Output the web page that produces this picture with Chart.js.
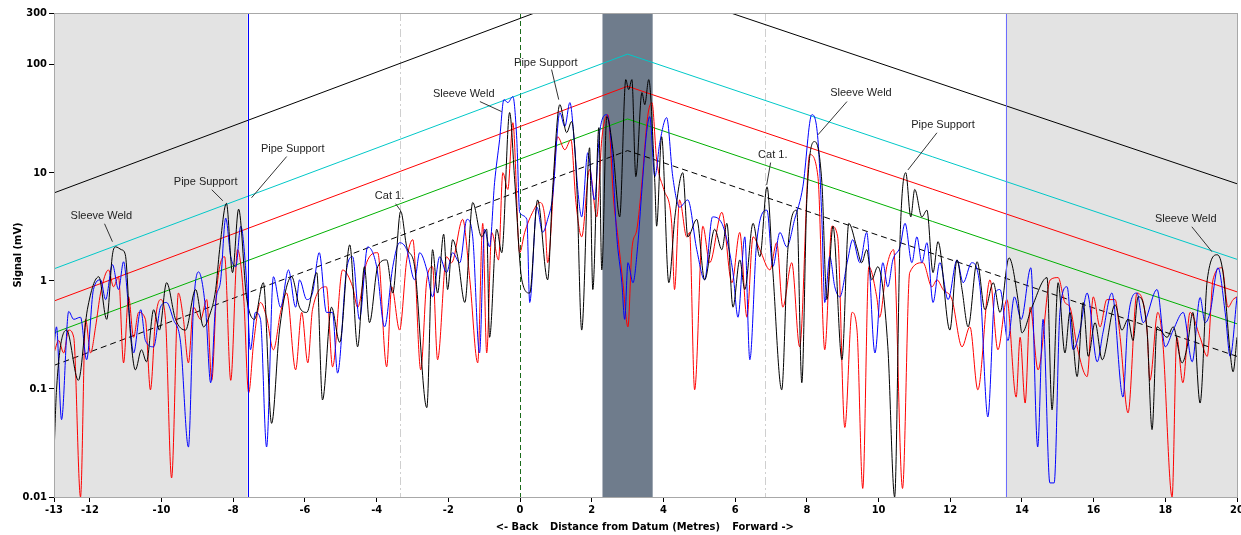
<!DOCTYPE html>
<html>
<head>
<meta charset="utf-8">
<title>Signal vs distance</title>
<script src="https://cdn.jsdelivr.net/npm/chart.js@4.4.1/dist/chart.umd.min.js"></script>
<style>
    html, body { margin: 0; padding: 0; background: #ffffff; }
    #wrap { width: 1241px; height: 535px; }
</style>
</head>
<body>
<div id="wrap"><canvas id="myChart" width="1241" height="535"></canvas></div>
<script>
// Tick values
const xTicks = [-13, -12, -10, -8, -6, -4, -2, 0, 2, 4, 6, 8, 10, 12, 14, 16, 18, 20];
const yTicks = [0.01, 0.1, 1, 10, 100, 300];

// DAC / threshold lines: x positions (m) and values (mV)
const dacX = [-13, 3, 20];
const dacBlack = [6.5, 630, 7.9];
const dacCyan = [1.29, 125, 1.58];
const dacRed = [0.65, 63, 0.79];
const dacGreen = [0.33, 31.4, 0.40];
const dacDashed = [0.165, 16, 0.2];

// Regions (m)
const greyLeft = [-13, -7.6];
const greyRight = [13.55, 20];
const darkBand = [2.3, 3.7];
const datumX = 0;
const refLines = [-3.36, 6.83];

// Signal traces [distance (m), signal (mV)]
const blackTrace = [
    [-13, 0.025], [-12.93, 0.098], [-12.65, 0.35], [-12.32, 0.12], [-12.07, 0.54], [-11.75, 1.09],
    [-11.53, 0.44], [-11.37, 1.74], [-11.28, 2.06], [-11.12, 1.94], [-11.01, 1.74], [-10.87, 0.33],
    [-10.73, 0.15], [-10.56, 0.23], [-10.42, 0.178], [-10.22, 0.54], [-10.06, 0.35], [-9.86, 0.96],
    [-9.61, 0.44], [-9.33, 0.35], [-9.05, 0.83], [-8.83, 0.375], [-8.66, 0.48], [-8.49, 0.83],
    [-8.38, 1.94], [-8.19, 5.2], [-8.02, 1.19], [-7.85, 4.6], [-7.63, 0.71], [-7.41, 0.44],
    [-7.16, 0.96], [-6.93, 0.048], [-6.71, 0.35], [-6.37, 1.09], [-6.15, 0.57], [-5.95, 0.51],
    [-5.67, 1.19], [-5.51, 0.079], [-5.26, 0.57], [-5.03, 0.27], [-4.75, 2.15], [-4.53, 0.245],
    [-4.34, 1.35], [-4.2, 0.41], [-3.97, 1.35], [-3.72, 1.56], [-3.55, 0.77], [-3.33, 4.4],
    [-3.16, 2.06], [-2.94, 1.35], [-2.6, 0.067], [-2.44, 1.94], [-2.3, 0.77], [-2.13, 2.7],
    [-2.02, 0.83], [-1.88, 2.4], [-1.74, 1.67], [-1.54, 0.63], [-1.32, 5.3], [-1.07, 2.55],
    [-0.93, 3.0], [-0.85, 0.3], [-0.65, 3.0], [-0.51, 1.82], [-0.29, 36], [-0.15, 8.6],
    [0.05, 1.02], [0.27, 0.77], [0.49, 5.6], [0.77, 1.02], [0.91, 7.0], [1.11, 42.6],
    [1.3, 23.5], [1.44, 29.7], [1.58, 8.1], [1.72, 0.35], [1.94, 17], [2.03, 0.83],
    [2.2, 26.1], [2.28, 1.26], [2.42, 33], [2.59, 16.3], [2.78, 3.9], [2.95, 72.6],
    [3.03, 58.7], [3.12, 72.6], [3.23, 9.2], [3.4, 55], [3.48, 42.6], [3.59, 72.6],
    [3.76, 8.1], [3.81, 3.2], [3.95, 21.5], [4.15, 0.96], [4.32, 3.9], [4.54, 10],
    [4.68, 2.55], [4.93, 3.7], [5.15, 1.02], [5.43, 3.0], [5.63, 1.94], [5.77, 3.4],
    [5.94, 0.57], [6.13, 1.56], [6.27, 0.83], [6.5, 3.4], [6.69, 1.67], [6.89, 7.4],
    [7.05, 1.26], [7.3, 0.098], [7.47, 1.94], [7.72, 4.5], [7.86, 0.114], [8.0, 5.6],
    [8.22, 19.4], [8.42, 8.1], [8.56, 0.67], [8.73, 3.2], [8.98, 0.186], [9.17, 3.4],
    [9.39, 2.06], [9.53, 1.47], [9.67, 1.94], [9.81, 1.02], [9.98, 1.35], [10.26, 0.245],
    [10.45, 0.01], [10.6, 2.4], [10.76, 10], [10.9, 3.9], [11.01, 7.0], [11.21, 3.9],
    [11.35, 4.5], [11.52, 1.19], [11.66, 2.3], [11.99, 0.35], [12.19, 1.56], [12.33, 0.83],
    [12.5, 0.375], [12.75, 1.5], [12.97, 0.54], [13.2, 0.96], [13.39, 0.51], [13.64, 1.63],
    [13.89, 0.67], [14.0, 0.33], [14.28, 0.57], [14.7, 1.07], [14.84, 0.064], [15.01, 0.96],
    [15.2, 0.215], [15.34, 0.51], [15.54, 0.13], [15.71, 0.63], [15.85, 0.2], [16.04, 0.41],
    [16.24, 0.186], [16.6, 0.6], [16.79, 0.35], [16.96, 0.44], [17.1, 0.28], [17.24, 0.71],
    [17.49, 0.35], [17.63, 0.042], [17.77, 0.375], [18.05, 0.3], [18.22, 0.375], [18.47, 0.174],
    [18.61, 0.245], [18.77, 0.51], [18.97, 0.074], [19.17, 1.02], [19.45, 1.74], [19.61, 1.19],
    [19.81, 0.215], [19.89, 0.144], [20, 0.3]
];

const redTrace = [
    [-13, 0.215], [-12.87, 0.28], [-12.73, 0.215], [-12.59, 0.35], [-12.45, 0.3], [-12.26, 0.01],
    [-12.12, 0.44], [-11.98, 0.215], [-11.84, 0.375], [-11.7, 0.77], [-11.48, 1.26], [-11.34, 0.88],
    [-11.2, 1.09], [-11.06, 0.174], [-10.92, 0.71], [-10.78, 0.3], [-10.64, 0.51], [-10.45, 0.44],
    [-10.31, 0.098], [-10.17, 0.44], [-10.03, 0.67], [-9.89, 0.44], [-9.72, 0.015], [-9.53, 0.77],
    [-9.39, 0.44], [-9.25, 0.174], [-9.11, 0.57], [-8.91, 0.44], [-8.74, 0.67], [-8.6, 0.12],
    [-8.46, 0.83], [-8.24, 1.67], [-8.07, 0.12], [-7.88, 1.94], [-7.71, 0.71], [-7.57, 0.092],
    [-7.43, 0.27], [-7.24, 0.63], [-7.07, 0.46], [-6.88, 0.23], [-6.68, 0.51], [-6.51, 0.77],
    [-6.26, 0.15], [-6.09, 0.51], [-5.92, 0.174], [-5.79, 0.54], [-5.4, 0.88], [-5.23, 0.16],
    [-4.95, 1.26], [-4.67, 0.88], [-4.53, 0.57], [-4.28, 1.47], [-3.97, 1.82], [-3.72, 0.16],
    [-3.58, 0.88], [-3.36, 0.35], [-3.16, 1.56], [-2.99, 2.4], [-2.77, 0.15], [-2.6, 1.02],
    [-2.44, 1.35], [-2.3, 0.186], [-2.05, 1.67], [-1.91, 1.47], [-1.6, 3.7], [-1.4, 1.02],
    [-1.18, 0.174], [-1.04, 3.4], [-0.93, 0.215], [-0.79, 2.8], [-0.6, 1.56], [-0.48, 10],
    [-0.34, 7.0], [-0.2, 29], [-0.01, 1.82], [0.13, 2.8], [0.35, 4.3], [0.55, 5.3],
    [0.69, 3.9], [0.77, 1.47], [1.05, 21.5], [1.25, 16.3], [1.42, 20.2], [1.56, 5.3],
    [1.72, 2.55], [1.94, 10.7], [2.14, 3.9], [2.28, 20.2], [2.45, 34.4], [2.61, 5.6],
    [2.73, 2.55], [2.87, 0.96], [3.01, 0.375], [3.12, 1.94], [3.26, 3.0], [3.4, 8.1],
    [3.56, 33], [3.68, 44.5], [3.81, 13.2], [4.01, 7.0], [4.23, 3.4], [4.31, 0.83],
    [4.45, 5.6], [4.65, 2.55], [4.73, 2.8], [4.87, 0.098], [5.1, 3.2], [5.29, 1.47],
    [5.63, 4.3], [5.91, 0.96], [6.13, 2.8], [6.33, 0.46], [6.5, 2.55], [6.69, 1.94],
    [6.97, 1.26], [7.16, 2.25], [7.33, 0.57], [7.58, 1.47], [7.8, 0.245], [8.08, 14.7],
    [8.31, 9.2], [8.5, 0.23], [8.7, 3.2], [8.86, 2.55], [9.06, 0.044], [9.26, 0.51],
    [9.4, 0.35], [9.56, 0.012], [9.73, 1.35], [9.95, 0.71], [10.03, 0.46], [10.23, 1.35],
    [10.42, 1.94], [10.67, 0.012], [10.87, 1.19], [11.24, 1.47], [11.49, 0.88], [11.63, 1.02],
    [11.8, 0.83], [12.05, 0.67], [12.33, 0.245], [12.55, 0.375], [12.77, 0.098], [13.11, 1.02],
    [13.33, 0.23], [13.58, 0.67], [13.84, 0.084], [13.95, 0.3], [14.09, 0.074], [14.23, 0.57],
    [14.45, 0.15], [14.79, 1.02], [15.01, 1.07], [15.2, 0.63], [15.34, 0.57], [15.54, 0.245],
    [15.82, 0.13], [15.99, 0.71], [16.18, 0.375], [16.37, 0.67], [16.6, 0.67], [16.74, 0.3],
    [16.96, 0.06], [17.21, 0.77], [17.49, 0.35], [17.57, 0.12], [17.79, 0.51], [17.93, 0.27],
    [18.19, 0.01], [18.32, 0.3], [18.49, 0.114], [18.69, 0.51], [18.97, 0.3], [19.17, 0.2],
    [19.33, 1.02], [19.58, 1.32], [19.75, 0.57], [19.89, 0.67], [20, 0.71]
];

const blueTrace = [
    [-13, 0.245], [-12.93, 0.375], [-12.79, 0.052], [-12.59, 0.52], [-12.45, 0.44], [-12.26, 0.46],
    [-12.09, 0.186], [-11.9, 0.83], [-11.7, 1.02], [-11.56, 0.67], [-11.37, 1.41], [-11.2, 0.83],
    [-11.06, 1.5], [-10.92, 0.57], [-10.78, 0.215], [-10.58, 0.54], [-10.45, 0.28], [-10.22, 0.245],
    [-10.03, 0.57], [-9.86, 0.63], [-9.67, 0.44], [-9.47, 0.27], [-9.25, 0.029], [-9.11, 0.57],
    [-8.97, 1.21], [-8.77, 0.54], [-8.63, 0.114], [-8.49, 0.63], [-8.35, 1.02], [-8.21, 3.8],
    [-8.07, 1.67], [-7.93, 1.35], [-7.79, 3.2], [-7.63, 1.02], [-7.52, 0.23], [-7.38, 0.51],
    [-7.24, 0.44], [-7.07, 0.029], [-6.88, 1.09], [-6.68, 0.57], [-6.46, 1.26], [-6.26, 0.57],
    [-6.15, 1.02], [-5.95, 0.67], [-5.79, 0.77], [-5.6, 1.82], [-5.4, 0.51], [-5.23, 0.51],
    [-5.09, 0.14], [-4.84, 1.26], [-4.67, 1.67], [-4.48, 0.44], [-4.25, 2.06], [-4.0, 1.35],
    [-3.78, 0.375], [-3.55, 1.35], [-3.36, 2.25], [-3.16, 1.94], [-2.94, 1.02], [-2.8, 1.82],
    [-2.6, 1.26], [-2.44, 0.71], [-2.24, 1.67], [-2.05, 1.19], [-1.88, 1.82], [-1.68, 1.47],
    [-1.48, 3.7], [-1.32, 2.55], [-1.13, 0.215], [-0.99, 3.0], [-0.85, 2.06], [-0.71, 8.1],
    [-0.57, 20.2], [-0.45, 47.4], [-0.34, 44.5], [-0.2, 50.6], [-0.09, 20.2], [-0.01, 4.3],
    [0.19, 3.7], [0.27, 0.63], [0.47, 4.8], [0.63, 2.8], [0.77, 3.7], [0.91, 6.0],
    [1.11, 36], [1.25, 26.7], [1.39, 44.5], [1.53, 16.3], [1.61, 7.0], [1.72, 3.9],
    [1.89, 15.3], [2.08, 5.6], [2.22, 23.5], [2.42, 34.4], [2.56, 16.3], [2.7, 2.55],
    [2.84, 0.96], [2.92, 0.44], [3.01, 1.47], [3.15, 0.96], [3.28, 2.06], [3.4, 7.0],
    [3.53, 23.5], [3.62, 33], [3.76, 9.2], [3.9, 19], [4.09, 32.3], [4.26, 9.2],
    [4.45, 4.8], [4.68, 5.6], [4.93, 1.94], [5.15, 1.02], [5.37, 3.9], [5.63, 3.4],
    [5.77, 2.4], [5.94, 1.19], [6.08, 0.46], [6.27, 2.55], [6.41, 0.186], [6.6, 2.25],
    [6.89, 4.5], [7.05, 1.35], [7.25, 2.8], [7.44, 2.06], [7.66, 3.7], [7.89, 7.4],
    [8.14, 34.4], [8.31, 20.2], [8.42, 3.7], [8.5, 0.63], [8.64, 1.67], [8.78, 0.88],
    [8.92, 0.71], [9.14, 1.56], [9.28, 2.4], [9.48, 1.47], [9.67, 2.8], [9.9, 0.215],
    [10.12, 1.47], [10.26, 0.88], [10.4, 1.56], [10.6, 2.06], [10.74, 3.4], [10.93, 1.47],
    [11.07, 2.55], [11.21, 1.47], [11.35, 2.25], [11.52, 0.63], [11.71, 1.47], [11.94, 0.67],
    [12.19, 1.56], [12.36, 0.96], [12.6, 1.47], [12.83, 0.88], [13.05, 0.055], [13.25, 0.77],
    [13.39, 0.83], [13.61, 0.28], [13.79, 0.71], [13.98, 0.44], [14.25, 1.32], [14.44, 0.029],
    [14.59, 0.44], [14.78, 0.0135], [14.9, 0.0135], [15.06, 0.51], [15.26, 0.88], [15.43, 0.23],
    [15.62, 0.35], [15.82, 0.77], [16.1, 0.178], [16.26, 0.33], [16.51, 0.77], [16.82, 0.084],
    [16.96, 0.44], [17.21, 0.77], [17.38, 0.41], [17.77, 0.83], [18.0, 0.245], [18.22, 0.35],
    [18.5, 0.51], [18.75, 0.178], [18.97, 0.7], [19.11, 0.41], [19.25, 0.51], [19.47, 1.32],
    [19.67, 0.51], [19.81, 0.2], [20, 0.71]
];

// Callouts: label, text anchor [x, mV], leader start, leader end
const callouts = [
    ['Sleeve Weld', [-11.68, 4.0], [-11.59, 3.37], [-11.37, 2.3]],
    ['Pipe Support', [-8.77, 8.2], [-8.6, 6.96], [-8.29, 5.5]],
    ['Pipe Support', [-6.34, 16.4], [-6.51, 14.1], [-7.49, 5.86]],
    ['Cat 1.', [-3.64, 6.1], [-3.47, 5.16], [-3.33, 4.45]],
    ['Sleeve Weld', [-1.57, 53.9], [-1.12, 45.5], [-0.51, 36.7]],
    ['Pipe Support', [0.72, 104], [0.88, 89.9], [1.08, 47.4]],
    ['Cat 1.', [7.05, 14.7], [6.99, 12.4], [6.88, 7.7]],
    ['Sleeve Weld', [9.51, 55], [9.12, 45.5], [8.31, 22.4]],
    ['Pipe Support', [11.8, 27.8], [11.63, 23.4], [10.82, 10.6]],
    ['Sleeve Weld', [18.57, 3.75], [18.74, 3.16], [19.3, 1.86]]
];

const tickFont = { family: '"DejaVu Sans Condensed", "Liberation Sans", Arial, sans-serif', size: 11, weight: 'bold' };

function toPoints(pairs) {
    return pairs.map(p => ({ x: p[0], y: p[1] }));
}

function dacPoints(values) {
    return dacX.map((x, i) => ({ x: x, y: values[i] }));
}

function vline(ctx, p, top, bottom) {
    ctx.beginPath();
    ctx.moveTo(p, top);
    ctx.lineTo(p, bottom);
    ctx.stroke();
}

// Background shading, band and vertical markers
const backgroundPlugin = {
    id: 'background',
    beforeDatasetsDraw(chart) {
        const { ctx, chartArea, scales } = chart;
        const xs = scales.x;
        const top = chartArea.top, bottom = chartArea.bottom;
        ctx.save();
        ctx.fillStyle = '#e3e3e3';
        [greyLeft, greyRight].forEach(r => {
            const a = xs.getPixelForValue(r[0]), b = xs.getPixelForValue(r[1]);
            ctx.fillRect(a, top, b - a, bottom - top);
        });
        ctx.fillStyle = '#6f7c8c';
        const d0 = xs.getPixelForValue(darkBand[0]), d1 = xs.getPixelForValue(darkBand[1]);
        ctx.fillRect(d0, top, d1 - d0, bottom - top);

        ctx.lineWidth = 1;
        // light dash-dot reference lines
        ctx.strokeStyle = '#cfcfcf';
        ctx.setLineDash([8, 3, 2, 3]);
        refLines.forEach(v => vline(ctx, Math.round(xs.getPixelForValue(v)) + 0.5, top, bottom));
        // datum line
        ctx.strokeStyle = '#1a6b1a';
        ctx.setLineDash([5, 3]);
        vline(ctx, Math.round(xs.getPixelForValue(datumX)) + 0.5, top, bottom);
        ctx.setLineDash([]);
        ctx.restore();
    },
    afterDatasetsDraw(chart) {
        const { ctx, chartArea, scales } = chart;
        const xs = scales.x, ys = scales.y;
        const top = chartArea.top, bottom = chartArea.bottom;
        ctx.save();
        ctx.lineWidth = 1;
        // blue region boundaries
        ctx.strokeStyle = '#0000ff';
        vline(ctx, Math.round(xs.getPixelForValue(greyLeft[1])) + 0.5, top, bottom);
        ctx.strokeStyle = '#6c6cff';
        vline(ctx, Math.round(xs.getPixelForValue(greyRight[0])) + 0.5, top, bottom);

        // plot frame
        ctx.strokeStyle = '#a8a8a8';
        ctx.strokeRect(Math.round(chartArea.left) + 0.5, Math.round(top) + 0.5,
            Math.round(chartArea.right - chartArea.left), Math.round(bottom - top));

        // callouts
        ctx.font = '11px "Liberation Sans", Arial, sans-serif';
        ctx.textAlign = 'center';
        ctx.textBaseline = 'middle';
        callouts.forEach(c => {
            ctx.strokeStyle = '#333333';
            ctx.beginPath();
            ctx.moveTo(xs.getPixelForValue(c[2][0]), ys.getPixelForValue(c[2][1]));
            ctx.lineTo(xs.getPixelForValue(c[3][0]), ys.getPixelForValue(c[3][1]));
            ctx.stroke();
            ctx.fillStyle = '#1e1e1e';
            ctx.fillText(c[0], xs.getPixelForValue(c[1][0]), ys.getPixelForValue(c[1][1]));
        });

        // x axis title pieces
        ctx.font = 'bold 11px "DejaVu Sans Condensed", "Liberation Sans", Arial, sans-serif';
        ctx.fillStyle = '#000000';
        const ty = bottom + 30;
        ctx.fillText('<- Back', chartArea.left + 463, ty);
        ctx.fillText('Distance from Datum (Metres)', chartArea.left + 581, ty);
        ctx.fillText('Forward ->', chartArea.left + 709, ty);
        ctx.restore();
    }
};

function traceSet(label, pairs, color) {
    return {
        label: label,
        data: toPoints(pairs),
        borderColor: color,
        borderWidth: 1,
        pointRadius: 0,
        cubicInterpolationMode: 'monotone',
        fill: false
    };
}

function dacSet(label, values, color, dash) {
    return {
        label: label,
        data: dacPoints(values),
        borderColor: color,
        borderWidth: 1,
        borderDash: dash || [],
        pointRadius: 0,
        tension: 0,
        fill: false
    };
}

function createChart() {
    const ctx = document.getElementById('myChart').getContext('2d');
    return new Chart(ctx, {
        type: 'line',
        data: {
            datasets: [
                traceSet('Black', blackTrace, '#000000'),
                traceSet('Blue', blueTrace, '#0000ff'),
                traceSet('Red', redTrace, '#ff0000'),
                dacSet('DAC +14', dacBlack, '#000000'),
                dacSet('DAC +6', dacCyan, '#00c8c8'),
                dacSet('DAC 0', dacRed, '#ff0000'),
                dacSet('DAC -6', dacGreen, '#00b000'),
                dacSet('DAC -12', dacDashed, '#000000', [6, 4])
            ]
        },
        options: {
            responsive: false,
            animation: false,
            devicePixelRatio: 1,
            layout: { padding: { top: 13, right: 4, left: 0, bottom: 0 } },
            plugins: {
                legend: { display: false },
                tooltip: { enabled: false }
            },
            scales: {
                x: {
                    type: 'linear',
                    min: -13,
                    max: 20,
                    afterBuildTicks: scale => { scale.ticks = xTicks.map(v => ({ value: v })); },
                    afterFit: scale => {
                        scale.height = 38;
                        scale.paddingLeft = 0;
                        scale.paddingRight = 0;
                    },
                    ticks: { font: tickFont, color: '#000000', padding: 2, maxRotation: 0, autoSkip: false },
                    grid: { drawOnChartArea: false, tickLength: 5, color: '#000000' },
                    border: { color: '#a8a8a8' }
                },
                y: {
                    type: 'logarithmic',
                    min: 0.01,
                    max: 300,
                    afterBuildTicks: scale => { scale.ticks = yTicks.map(v => ({ value: v })); },
                    afterFit: scale => {
                        scale.width = 54;
                        scale.paddingTop = 0;
                        scale.paddingBottom = 0;
                    },
                    ticks: {
                        font: tickFont,
                        color: '#000000',
                        padding: 2,
                        autoSkip: false,
                        callback: v => String(v)
                    },
                    grid: { drawOnChartArea: false, tickLength: 5, color: '#000000' },
                    border: { color: '#a8a8a8' },
                    title: {
                        display: true,
                        text: 'Signal (mV)',
                        font: tickFont,
                        color: '#000000',
                        padding: { top: 12, bottom: 0 }
                    }
                }
            }
        },
        plugins: [backgroundPlugin]
    });
}

createChart();
</script>
</body>
</html>
